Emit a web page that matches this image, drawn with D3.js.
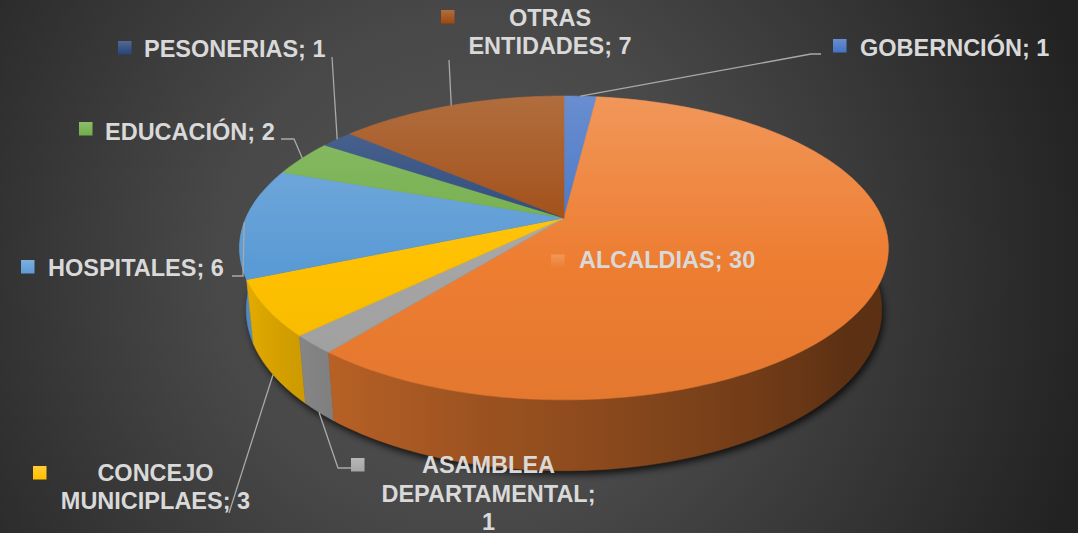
<!DOCTYPE html>
<html><head><meta charset="utf-8">
<script src="https://cdn.jsdelivr.net/npm/d3@7"></script>
<style>html,body{margin:0;padding:0;background:#333;overflow:hidden}svg{display:block}</style>
</head><body>
<svg id="chart" width="1078" height="533"></svg>
<script>
// ---- data ----
const categories = ["GOBERNCIÓN","ALCALDIAS","ASAMBLEA DEPARTAMENTAL","CONCEJO MUNICIPLAES","HOSPITALES","EDUCACIÓN","PESONERIAS","OTRAS ENTIDADES"];
const values = [1, 30, 1, 3, 6, 2, 1, 7];
const colors = ["#4472c4","#ed7d31","#a5a5a5","#ffc000","#5b9bd5","#70ad47","#264478","#9e480e"];

// ---- label layout (positions only) ----
const labelLayout = [
  {key:[833,39], x:860, y:[55.6], anchor:"start", wrap:null, lead:[[811,54],[821,54]], at:"top"},
  {key:[551,254.5], x:579, y:[268.3], anchor:"start", wrap:null, lead:null, at:"top"},
  {key:[351,458], x:488.5, y:[473.3,502,529.5], anchor:"middle", wrap:[1,1,1], lead:[[338,468],[351,468]], at:"bottom"},
  {key:[33,466], x:155.5, y:[480.7,509.3], anchor:"middle", wrap:[1,2], lead:[[229,513]], at:"bottom"},
  {key:[21,260], x:48, y:[275.7], anchor:"start", wrap:null, lead:[[243,276],[232,276]], at:"top"},
  {key:[79,122], x:105, y:[139.5], anchor:"start", wrap:null, lead:[[294,139],[281,139]], at:"top"},
  {key:[118,41], x:144, y:[56.8], anchor:"start", wrap:null, lead:[[332,57]], at:"top"},
  {key:[441,10], x:550, y:[26,54.3], anchor:"middle", wrap:[1,2], lead:[[449,60]], at:"top"}
];

const W = 1078, H = 533;
const svg = d3.select("#chart");
const defs = svg.append("defs");

// background
const bg = defs.append("radialGradient").attr("id","bg").attr("gradientUnits","userSpaceOnUse")
  .attr("cx",470).attr("cy",270).attr("r",640);
bg.append("stop").attr("offset",0).attr("stop-color","#545454");
bg.append("stop").attr("offset",0.4).attr("stop-color","#484848");
bg.append("stop").attr("offset",1).attr("stop-color","#222222");
svg.append("rect").attr("width",W).attr("height",H).attr("fill","url(#bg)");

// projection (pseudo-3D perspective)
const P = {cx:564, cy:218, kx:318, ky:146, p:0.197, t:62};
function proj(theta, r, d) {
  const X = r*Math.sin(theta), Z = r*Math.cos(theta);
  const s = 1/(1 + P.p*Z + 0.02*d);
  return [P.cx + X*P.kx*s, P.cy + (-Z*P.ky + d*P.t)*s];
}

const pie = d3.pie().sort(null).value(d => d)(values);
const shade = d3.scaleLinear().domain([130, 245]).range([0.39, 0.89]).clamp(true);
const scaleCol = (c, b) => { const q = d3.rgb(c); return d3.rgb(q.r*b, q.g*b, q.b*b).formatHex(); };
const deg = Math.PI/180;
const line = d3.line();

// wall gradient stops: sample front rim, x -> brightness
const X0 = 220, X1 = 910;
const wallStops = [];
for (let a = 270; a >= 90; a -= 3) {
  const x = proj(a*deg, 1, 0)[0];
  wallStops.push({o: (x - X0)/(X1 - X0), b: shade(a)});
}

colors.forEach((c, i) => {
  const g = defs.append("linearGradient").attr("id","top"+i).attr("gradientUnits","userSpaceOnUse")
    .attr("x1",0).attr("y1",96).attr("x2",0).attr("y2",400);
  g.append("stop").attr("offset",0).attr("stop-color", d3.interpolateRgb(c,"#ffffff")(0.2));
  g.append("stop").attr("offset",0.55).attr("stop-color", c);
  g.append("stop").attr("offset",1).attr("stop-color", scaleCol(c,0.96));
  const k = defs.append("linearGradient").attr("id","key"+i).attr("x1",0).attr("y1",0).attr("x2",0).attr("y2",1);
  k.append("stop").attr("offset",0).attr("stop-color", d3.interpolateRgb(c,"#ffffff")(0.2));
  k.append("stop").attr("offset",1).attr("stop-color", c);
  const w = defs.append("linearGradient").attr("id","wall"+i).attr("gradientUnits","userSpaceOnUse")
    .attr("x1",X0).attr("y1",0).attr("x2",X1).attr("y2",0);
  wallStops.forEach(s => w.append("stop").attr("offset", Math.max(0, Math.min(1, s.o))).attr("stop-color", scaleCol(c, s.b)));
});

// shadow
const f = defs.append("filter").attr("id","blur").attr("x","-10%").attr("y","-10%").attr("width","120%").attr("height","130%");
f.append("feGaussianBlur").attr("stdDeviation",3.5);
const shadowPts = [];
for (let a = 60; a <= 300; a += 2) shadowPts.push(proj(a*deg, 1, 1));
svg.append("path").attr("d", line(shadowPts) + "Z").attr("fill","#000").attr("opacity",0.75)
  .attr("transform","translate(2,4)").attr("filter","url(#blur)");

// walls: only the part facing the viewer (front half), one path per slice, back to front
const walls = [];
pie.forEach((s, i) => {
  const a0 = Math.max(s.startAngle, 80*deg), a1 = Math.min(s.endAngle, 280*deg);
  if (a1 <= a0) return;
  const n = Math.max(2, Math.ceil((a1 - a0)/deg));
  const topPts = [], botPts = [];
  for (let k = 0; k <= n; k++) {
    const a = a0 + (a1 - a0)*k/n;
    topPts.push(proj(a,1,0)); botPts.push(proj(a,1,1));
  }
  walls.push({i, z: Math.cos((a0+a1)/2), pts: topPts.concat(botPts.reverse())});
});
walls.sort((a,b) => b.z - a.z);
svg.append("g").selectAll("path").data(walls).join("path")
  .attr("d", d => line(d.pts) + "Z")
  .attr("fill", d => `url(#wall${d.i})`).attr("stroke", d => `url(#wall${d.i})`).attr("stroke-width",0.6);

// top faces
svg.append("g").selectAll("path").data(pie).join("path")
  .attr("d", (s) => {
    const pts = [proj(0,0,0)];
    const n = Math.max(2, Math.ceil((s.endAngle - s.startAngle)/deg));
    for (let k = 0; k <= n; k++) pts.push(proj(s.startAngle + (s.endAngle - s.startAngle)*k/n, 1, 0));
    return line(pts) + "Z";
  })
  .attr("fill", (s,i) => `url(#top${i})`).attr("stroke", (s,i) => `url(#top${i})`).attr("stroke-width",0.6);

// leader lines
const lg = svg.append("g").attr("fill","none").attr("stroke","#a9a9a9").attr("stroke-width",1.3);
pie.forEach((s, i) => {
  const L = labelLayout[i];
  if (!L.lead) return;
  const am = (s.startAngle + s.endAngle)/2;
  const start = proj(am, 1, L.at === "bottom" ? 1 : 0);
  lg.append("path").attr("d", line([start, ...L.lead]));
});

// labels
const tg = svg.append("g").attr("font-family","'Liberation Sans', Arial, sans-serif")
  .attr("font-weight","bold").attr("font-size","23.5px").attr("fill","#d9d9d9");
categories.forEach((c, i) => {
  const L = labelLayout[i];
  const words = (c + "; " + values[i]).split(" ");
  let lines;
  if (L.wrap) { lines = []; let p = 0; L.wrap.forEach(n => { lines.push(words.slice(p, p+n).join(" ")); p += n; }); }
  else lines = [words.join(" ")];
  svg.append("rect").attr("x", L.key[0]).attr("y", L.key[1]).attr("width",13.5).attr("height",13.5)
    .attr("fill", `url(#key${i})`);
  lines.forEach((t, j) => {
    tg.append("text").attr("x", L.x).attr("y", L.y[j]).attr("text-anchor", L.anchor).text(t);
  });
});
</script>
</body></html>
